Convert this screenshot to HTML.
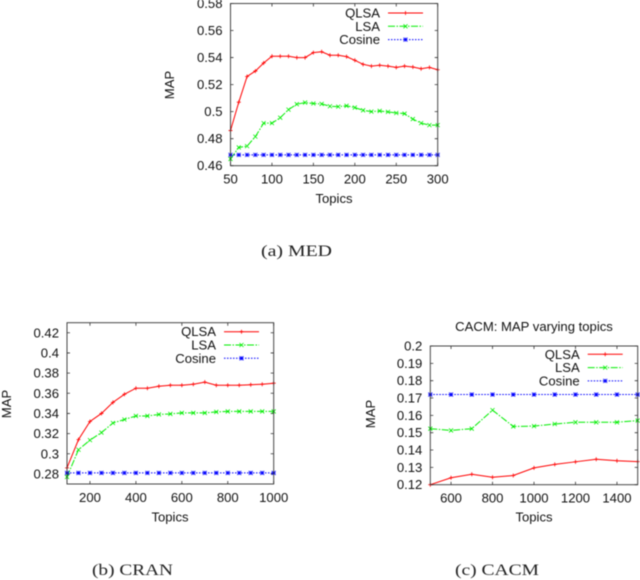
<!DOCTYPE html>
<html>
<head>
<meta charset="utf-8">
<title>MAP varying topics</title>
<style>
html,body{margin:0;padding:0;background:#fff;}
body{width:640px;height:580px;overflow:hidden;position:relative;}
#figure{position:absolute;left:0;top:0;width:640px;height:580px;filter:blur(0.45px);}
text{font-family:"Liberation Sans",sans-serif;font-size:13.1px;fill:#111;}
text.caption{font-family:"Liberation Serif",serif;font-size:16px;fill:#222;}
</style>
</head>
<body>
<svg id="figure" xmlns="http://www.w3.org/2000/svg" width="640" height="580" viewBox="0 0 640 580">
<text class="caption" x="261" y="256" textLength="71" lengthAdjust="spacingAndGlyphs">(a) MED</text>
<text class="caption" x="92" y="575" textLength="81" lengthAdjust="spacingAndGlyphs">(b) CRAN</text>
<text class="caption" x="455" y="575" textLength="84" lengthAdjust="spacingAndGlyphs">(c) CACM</text>
</svg>
<script>
const medTopics = [50,60,70,80,90,100,110,120,130,140,150,160,170,180,190,200,210,220,230,240,250,260,270,280,290,300];
const medQlsa = [.486,.507,.526,.530,.536,.541,.541,.541,.540,.540,.5437,.5443,.5417,.5417,.5407,.538,.535,.5337,.5343,.5337,.5327,.5337,.533,.5317,.5327,.531];
const medLsa = [.465,.4735,.4745,.4815,.4915,.4915,.4955,.5015,.5055,.5067,.506,.5057,.504,.5037,.5043,.503,.501,.5,.5005,.4998,.499,.4985,.4945,.4915,.490,.490];
const medCosine = [.468,.468,.468,.468,.468,.468,.468,.468,.468,.468,.468,.468,.468,.468,.468,.468,.468,.468,.468,.468,.468,.468,.468,.468,.468,.468];
const medXTicks = ['50','100','150','200','250','300'];
const medYTicks = ['0.46','0.48','0.5','0.52','0.54','0.56','0.58'];

const cranTopics = [100,150,200,250,300,350,400,450,500,550,600,650,700,750,800,850,900,950,1000];
const cranQlsa = [.286,.314,.332,.340,.351,.359,.365,.365,.367,.368,.368,.369,.371,.368,.368,.368,.3685,.369,.370];
const cranLsa = [.277,.304,.3135,.321,.3305,.334,.3375,.3375,.339,.3395,.3405,.3405,.3405,.3415,.342,.342,.342,.342,.342];
const cranCosine = [.281,.281,.281,.281,.281,.281,.281,.281,.281,.281,.281,.281,.281,.281,.281,.281,.281,.281,.281];
const cranXTicks = ['200','400','600','800','1000'];
const cranYTicks = ['0.28','0.3','0.32','0.34','0.36','0.38','0.4','0.42'];

const cacmTopics = [500,600,700,800,900,1000,1100,1200,1300,1400,1500];
const cacmQlsa = [.12,.124,.126,.1243,.1253,.1297,.1317,.1332,.1347,.1338,.1333];
const cacmLsa = [.1523,.1513,.1523,.163,.1536,.1538,.155,.156,.156,.156,.157];
const cacmCosine = [.172,.172,.172,.172,.172,.172,.172,.172,.172,.172,.172];
const cacmXTicks = ['600','800','1000','1200','1400'];
const cacmYTicks = ['0.12','0.13','0.14','0.15','0.16','0.17','0.18','0.19','0.2'];

const seriesNames = ['QLSA','LSA','Cosine'];
const xAxisTitle = 'Topics';
const yAxisTitle = 'MAP';
const cacmTitle = 'CACM: MAP varying topics';

const NS = 'http://www.w3.org/2000/svg';
const svg = document.getElementById('figure');
const COLORS = ['#ff0000','#00ee00','#0000ff'];
const DASHES = ['', '7 1.5 1.5 1.5', '1.5 1.5'];

function make(parent, tag, attrs, text) {
  const el = document.createElementNS(NS, tag);
  for (const k in attrs) el.setAttribute(k, attrs[k]);
  if (text !== undefined) el.textContent = text;
  parent.appendChild(el);
  return el;
}

function markerPath(kind, x, y) {
  const r = 2;
  const plus = `M${x-r} ${y}H${x+r}M${x} ${y-r}V${y+r}`;
  const cross = `M${x-r} ${y-r}L${x+r} ${y+r}M${x-r} ${y+r}L${x+r} ${y-r}`;
  if (kind === 0) return plus;
  if (kind === 1) return cross;
  return plus + cross;
}

function drawChart(cfg) {
  const g = make(svg, 'g', {});
  
  
  const xScale = v => cfg.left + (v - cfg.xMin) / (cfg.xMax - cfg.xMin) * (cfg.right - cfg.left);
  const yScale = v => cfg.bottom - (v - cfg.yMin) / (cfg.yMax - cfg.yMin) * (cfg.bottom - cfg.top);

  const ticks = make(g, 'g', {});
  
  
  cfg.xTicks.forEach(t => {
    const x = xScale(parseFloat(t));
    const tick = make(ticks, 'path', {d:`M${x} ${cfg.bottom}v-3M${x} ${cfg.top}v3`, stroke:'#333', 'stroke-width':0.8, fill:'none'});
    
    
    const label = make(ticks, 'text', {x:x + cfg.xLabelShift, y:cfg.bottom + 18, 'text-anchor':'middle'}, t);
    
    
  });
  cfg.yTicks.forEach(t => {
    const y = yScale(parseFloat(t));
    const tick = make(ticks, 'path', {d:`M${cfg.left} ${y}h3M${cfg.right} ${y}h-3`, stroke:'#333', 'stroke-width':0.8, fill:'none'});
    
    
    const label = make(ticks, 'text', {x:cfg.left - 8, y:y + 4.5, 'text-anchor':'end'}, t);
    
    
  });

  cfg.series.forEach((vals, i) => {
    const pts = vals.map((v, j) => [xScale(cfg.xs[j]), yScale(v)]);
    const line = make(g, 'path', {
      d:'M' + pts.map(p => p[0].toFixed(2) + ' ' + p[1].toFixed(2)).join('L'),
      fill:'none', stroke:COLORS[i], 'stroke-width':1, 'stroke-dasharray':DASHES[i]
    });
    
    
    const marks = make(g, 'path', {
      d:pts.map(p => markerPath(i, p[0], p[1])).join(''),
      fill:'none', stroke:COLORS[i], 'stroke-width':0.8
    });
    
    
  });

  const frame = make(g, 'rect', {x:cfg.left, y:cfg.top, width:cfg.right - cfg.left, height:cfg.bottom - cfg.top, fill:'none', stroke:'#333', 'stroke-width':0.9});
  
  

  const legend = make(g, 'g', {});
  
  
  seriesNames.forEach((s, i) => {
    const y = cfg.legendY + i * 13.3;
    const label = make(legend, 'text', {x:cfg.legendText, y:y + 4.5, 'text-anchor':'end'}, s);
    
    
    const sample = make(legend, 'path', {d:`M${cfg.legendText + 8} ${y}h35`, fill:'none', stroke:COLORS[i], 'stroke-width':1, 'stroke-dasharray':DASHES[i]});
    
    
    const mark = make(legend, 'path', {d:markerPath(i, cfg.legendText + 25.5, y), fill:'none', stroke:COLORS[i], 'stroke-width':0.8});
    
    
  });

  const xt = make(g, 'text', {x:cfg.xTitleX, y:cfg.xTitleY, 'text-anchor':'middle'}, xAxisTitle);
  
  
  const yt = make(g, 'text', {x:0, y:0, 'text-anchor':'middle', transform:`translate(${cfg.yTitleX} ${cfg.yTitleY}) rotate(-90)`}, yAxisTitle);
  
  
}

drawChart({name:'med', xs:medTopics, series:[medQlsa, medLsa, medCosine], xTicks:medXTicks, yTicks:medYTicks,
  left:230.5, right:437.7, top:3.5, bottom:165.7, xMin:50, xMax:300, yMin:.46, yMax:.58,
  legendText:380, legendY:13, xTitleX:334, xTitleY:203, yTitleX:174, yTitleY:85, xLabelShift:0});
drawChart({name:'cran', xs:cranTopics, series:[cranQlsa, cranLsa, cranCosine], xTicks:cranXTicks, yTicks:cranYTicks,
  left:67, right:273.7, top:322.7, bottom:484, xMin:100, xMax:1000, yMin:.27, yMax:.43,
  legendText:216, legendY:331.7, xTitleX:170, xTitleY:521.5, yTitleX:11, yTitleY:404, xLabelShift:0});
drawChart({name:'cacm', xs:cacmTopics, series:[cacmQlsa, cacmLsa, cacmCosine], xTicks:cacmXTicks, yTicks:cacmYTicks,
  left:430.3, right:637.7, top:346, bottom:484.7, xMin:500, xMax:1500, yMin:.12, yMax:.2,
  legendText:579.7, legendY:354.3, xTitleX:534, xTitleY:521.5, yTitleX:375, yTitleY:414, xLabelShift:0});

const titleEl = make(svg, 'text', {x:534, y:331, 'text-anchor':'middle', style:'font-size:13.1px'}, cacmTitle);


</script>
</body>
</html>
